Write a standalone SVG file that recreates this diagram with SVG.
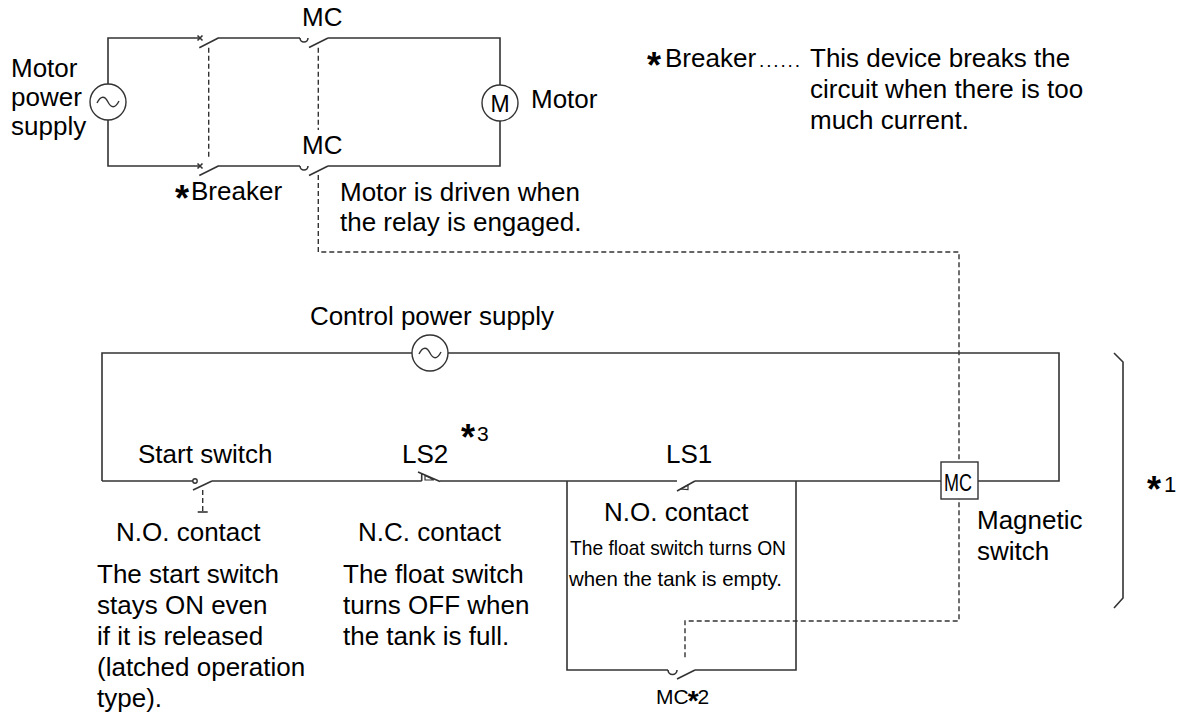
<svg xmlns="http://www.w3.org/2000/svg" width="1181" height="718" viewBox="0 0 1181 718">
<style>
  .w{fill:none;stroke:#333;stroke-width:1.6;stroke-linecap:butt}
  .d{fill:none;stroke:#333;stroke-width:1.4;stroke-dasharray:5,3}
  .c{fill:#fff;stroke:#333;stroke-width:1.4}
  .t{font-family:"Liberation Sans",Arial,sans-serif;font-size:26px;fill:#000}
  .n{font-family:"Liberation Sans",Arial,sans-serif;font-size:21px;fill:#000}
  .ast{font-weight:bold;font-size:36px}
</style>
<defs>
  <path id="tilde" d="M-11,1 C-7,-7 -3,-6 0,0 C3,6 7,7 11,-1" fill="none" stroke="#333" stroke-width="1.4"/>
</defs>
<rect width="1181" height="718" fill="#fff"/>

<g id="connectors">
  <path class="w" d="M200,38 L108,38 L108,84 M108,120 L108,166 L200,166"/>
  <path class="w" d="M218,38 L300,38 M328,38 L500,38 L500,85 M500,121 L500,166 L328,166 M300,166 L218,166"/>
  <path class="w" d="M102,481 L102,353 L412,353 M448,353 L1059,353 L1059,481 L978,481"/>
  <path class="w" d="M102,481 L193,481 M212,481 L421.7,481 M440,481 L677,481 M695,481 L941,481"/>
  <path class="w" d="M567,481 L567,670 L668,670 M695,670 L796,670 L796,481"/>
  <path class="d" d="M208.7,47.7 L208.7,158"/>
  <path class="d" d="M318.3,47.7 L318.3,130"/>
  <path class="d" d="M318.3,175 L318.3,252 L959,252 L959,621 L685,621 L685,660"/>
</g>

<g id="motor-power-supply">
  <circle class="c" cx="108" cy="102" r="18"/>
  <use href="#tilde" transform="translate(108,102)"/>
  <text class="t" x="11" y="77">Motor</text>
  <text class="t" x="11" y="106">power</text>
  <text class="t" x="11" y="135">supply</text>
</g>

<g id="breaker">
  <path class="w" d="M197.5,35.5 L202.5,40.5 M197.5,40.5 L202.5,35.5 M199.3,47.7 L218.3,38"/>
  <path class="w" d="M197.5,163.5 L202.5,168.5 M197.5,168.5 L202.5,163.5 M199.3,175.5 L218.3,166"/>
  <text class="t" x="175" y="200"><tspan class="ast" dy="11">*</tspan><tspan x="191" dy="-11">Breaker</tspan></text>
</g>

<g id="mc-contact-top">
  <path class="w" d="M300,38 A4,4 0 0 0 308,38 M309,47.5 L328,38"/>
  <text class="t" x="302" y="26">MC</text>
</g>

<g id="mc-contact-bottom">
  <path class="w" d="M300,166 A4,4 0 0 0 308,166 M309,175.5 L328,166"/>
  <text class="t" x="302" y="154">MC</text>
  <text class="t" x="340" y="201">Motor is driven when</text>
  <text class="t" x="340" y="231">the relay is engaged.</text>
</g>

<g id="motor">
  <circle class="c" cx="500" cy="103" r="18"/>
  <text class="t" x="500" y="112" text-anchor="middle" style="font-size:23px">M</text>
  <text class="t" x="531" y="108">Motor</text>
</g>

<g id="legend">
  <text class="t" x="647" y="67"><tspan class="ast" dy="11">*</tspan><tspan x="665" dy="-11">Breaker</tspan></text>
  <text class="t" x="759" y="67" style="font-size:19px" textLength="41" lengthAdjust="spacing">......</text>
  <text class="t" x="810" y="67">This device breaks the</text>
  <text class="t" x="810" y="98">circuit when there is too</text>
  <text class="t" x="810" y="129">much current.</text>
</g>

<g id="control-power-supply">
  <circle class="c" cx="430" cy="353" r="18"/>
  <use href="#tilde" transform="translate(430,353)"/>
  <text class="t" x="432" y="325" text-anchor="middle">Control power supply</text>
</g>

<g id="start-switch">
  <circle class="c" cx="195" cy="481" r="2.2"/>
  <path class="w" d="M193,490 L212,481"/>
  <path class="d" d="M202.7,490 L202.7,511"/>
  <path class="w" d="M197.7,512 L207.7,512"/>
  <text class="t" x="138" y="463">Start switch</text>
  <text class="t" x="116" y="541">N.O. contact</text>
  <text class="t" x="97" y="583">The start switch</text>
  <text class="t" x="97" y="614">stays ON even</text>
  <text class="t" x="97" y="645">if it is released</text>
  <text class="t" x="97" y="676">(latched operation</text>
  <text class="t" x="97" y="707">type).</text>
</g>

<g id="ls2">
  <path class="w" d="M418,472 L440,481.5 M421.7,473.5 L421.7,481"/>
  <path class="w" style="stroke-width:1.2" d="M425,475.5 L425,480 L434,480 Z"/>
  <text class="t" x="402" y="463">LS2</text>
  <text class="t" x="461" y="441" style="font-size:21px"><tspan class="ast" dy="9">*</tspan><tspan x="477" dy="-9">3</tspan></text>
  <text class="t" x="358" y="541">N.C. contact</text>
  <text class="t" x="343" y="583">The float switch</text>
  <text class="t" x="343" y="614">turns OFF when</text>
  <text class="t" x="343" y="645">the tank is full.</text>
</g>

<g id="ls1">
  <path class="w" d="M677,491 L695,481"/>
  <path class="w" style="stroke-width:1.2" d="M681,489 L688,485 L688,489.5 Z"/>
  <text class="t" x="666" y="463">LS1</text>
  <text class="t" x="604" y="521">N.O. contact</text>
  <text class="n" x="570" y="555" textLength="216" lengthAdjust="spacingAndGlyphs">The float switch turns ON</text>
  <text class="n" x="569" y="586" textLength="213" lengthAdjust="spacingAndGlyphs">when the tank is empty.</text>
</g>

<g id="mc-aux-contact">
  <path class="w" d="M668,670 A4.5,4.5 0 0 0 677,670 M677,679 L695,670"/>
  <text class="n" x="656" y="704">MC<tspan class="ast" style="font-size:28px" dx="-1" dy="6">*</tspan><tspan dx="-1" dy="-6">2</tspan></text>
</g>

<g id="mc-coil">
  <rect class="c" x="941" y="462" width="37" height="37"/>
  <text class="t" x="944" y="491" style="font-size:24px" textLength="28" lengthAdjust="spacingAndGlyphs">MC</text>
  <text class="t" x="977" y="529">Magnetic</text>
  <text class="t" x="977" y="560">switch</text>
</g>

<g id="bracket">
  <path class="w" d="M1114,353 L1123,362 L1123,598 L1114,608"/>
  <text class="t" x="1147" y="492" style="font-size:22px"><tspan class="ast" dy="10">*</tspan><tspan x="1164" dy="-10">1</tspan></text>
</g>
</svg>
